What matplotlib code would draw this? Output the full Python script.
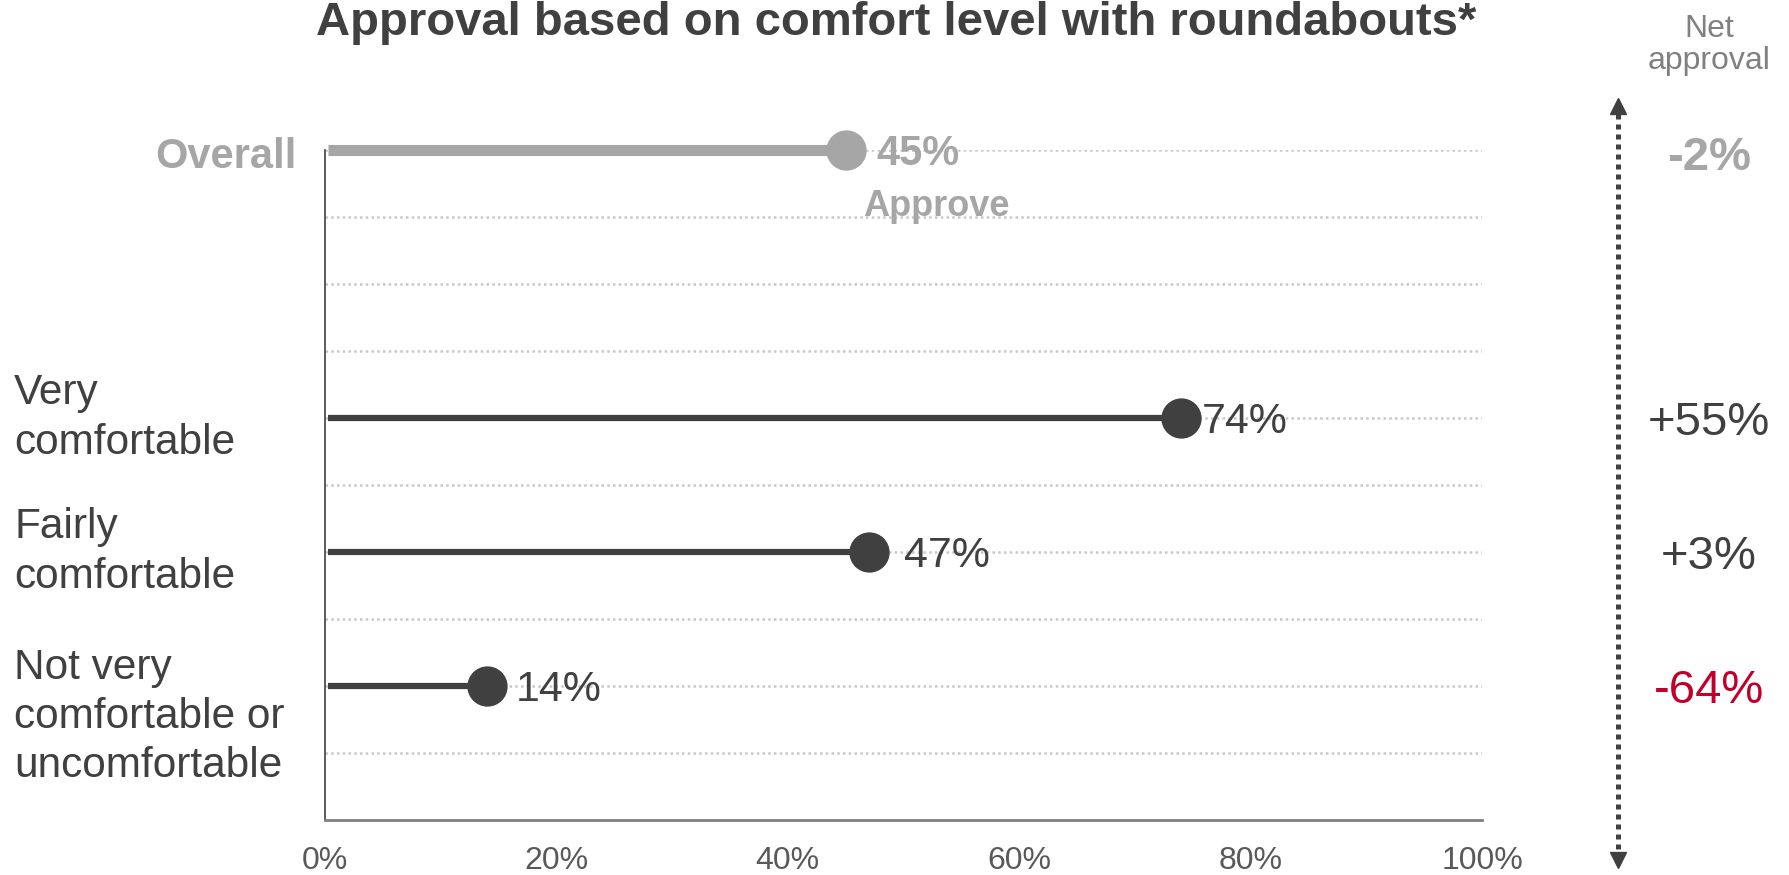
import matplotlib
matplotlib.use("Agg")
import matplotlib.pyplot as plt
import matplotlib.transforms as mtransforms

plt.rcParams['font.family'] = ['Liberation Sans', 'DejaVu Sans']

# data
categories = ['Very\ncomfortable', 'Fairly\ncomfortable', 'Not very\ncomfortable or\nuncomfortable']
approve = [74, 47, 14]
net_approval = [55, 3, -64]
overall_label = 'Overall'
overall_approve = 45
overall_net = -2
xticks = [0, 20, 40, 60, 80, 100]

DARK = '#404040'
GREY = '#A6A6A6'
RED = '#C0002A'

# layout (row positions on the y axis, 0 at top)
overall_row = 0
rows = [4, 6, 8]
label_pad = [15, 25, 21]          # points between marker centre and value label
cat_label_shift = [0, 0, 0.46]    # multi-line label vertical nudge (rows)

fig = plt.figure(figsize=(17.9, 8.75), dpi=100)
ax = fig.add_axes([325 / 1790, 1 - 820 / 875, 1157 / 1790, 670 / 875])
ax.set_xlim(0, 100)
ax.set_ylim(10, 0)

# dotted guide lines
for g in range(0, 10):
    ax.axhline(g, color='#C8C8C8', lw=1.8, ls=(0, (1, 1.3)), zorder=0)

# overall lollipop
ax.plot([0.3, overall_approve], [overall_row, overall_row], color=GREY, lw=8,
        solid_capstyle='butt', clip_on=False, zorder=2)
ax.plot([overall_approve], [overall_row], 'o', color=GREY, ms=28, clip_on=False, zorder=3)
ax.annotate(f'{overall_approve}%', (overall_approve, overall_row + 0.06), xytext=(22, 0),
            textcoords='offset points', ha='left', va='center', fontsize=30,
            fontweight='bold', color=GREY)
ax.text(52.8, 0.84, 'Approve', ha='center', va='center', fontsize=26,
        fontweight='bold', color=GREY)

# category lollipops
for val, row, pad in zip(approve, rows, label_pad):
    ax.plot([0.3, val], [row, row], color=DARK, lw=4.5, solid_capstyle='butt', zorder=2)
    ax.plot([val], [row], 'o', color=DARK, ms=28, zorder=3)
    ax.annotate(f'{val}%', (val, row + 0.06), xytext=(pad, 0), textcoords='offset points',
                ha='left', va='center', fontsize=31, color=DARK)

# row labels on the left
trans_left = mtransforms.blended_transform_factory(fig.transFigure, ax.transData)
for cat, row, sh in zip(categories, rows, cat_label_shift):
    ax.text(14 / 1790, row + sh, cat, transform=trans_left, ha='left', va='center',
            fontsize=30.5, color=DARK, linespacing=1.3, clip_on=False)
ax.text(297 / 1790, overall_row + 0.1, overall_label, transform=trans_left,
        ha='right', va='center', fontsize=30, fontweight='bold', color=GREY)

# net approval column
fig.text(1709 / 1790, 1 - 45 / 875, 'Net\napproval', ha='center', va='center',
         fontsize=23, color='#808080', linespacing=1.1)
ax.text(1709 / 1790, overall_row + 0.12, f'{overall_net:+d}%', transform=trans_left,
        ha='center', va='center', fontsize=34, fontweight='bold', color=GREY)
for n, row in zip(net_approval, rows):
    ax.text(1709 / 1790, row + 0.08, f'{n:+d}%', transform=trans_left, ha='center',
            va='center', fontsize=34, color=RED if n < 0 else DARK)

# dotted double arrow
ax_x = 1618
fig.add_artist(plt.Line2D([ax_x, ax_x], [875 - 114, 875 - 852], transform=None,
                          color=DARK, lw=3.6, ls=(0, (1, 1)), solid_capstyle='butt'))
fig.add_artist(plt.Line2D([ax_x], [875 - 106], transform=None, marker='^',
                          ms=12, color=DARK, ls='none'))
fig.add_artist(plt.Line2D([ax_x], [875 - 860], transform=None, marker='v',
                          ms=12, color=DARK, ls='none'))

# axes styling
ax.set_xticks(xticks)
ax.set_xticklabels([f'{t}%' for t in xticks], fontsize=23, color='#595959')
ax.set_yticks([])
ax.tick_params(axis='x', length=0, pad=19)
for s in ['top', 'right']:
    ax.spines[s].set_visible(False)
ax.spines['left'].set_color(DARK)
ax.spines['left'].set_linewidth(1.2)
ax.spines['bottom'].set_color('#808080')
ax.spines['bottom'].set_linewidth(2)

fig.text(896 / 1790, 1 - 35 / 875, 'Approval based on comfort level with roundabouts*',
         ha='center', va='baseline', fontsize=34, fontweight='bold', color=DARK)

fig.savefig('out.png', dpi=100)
